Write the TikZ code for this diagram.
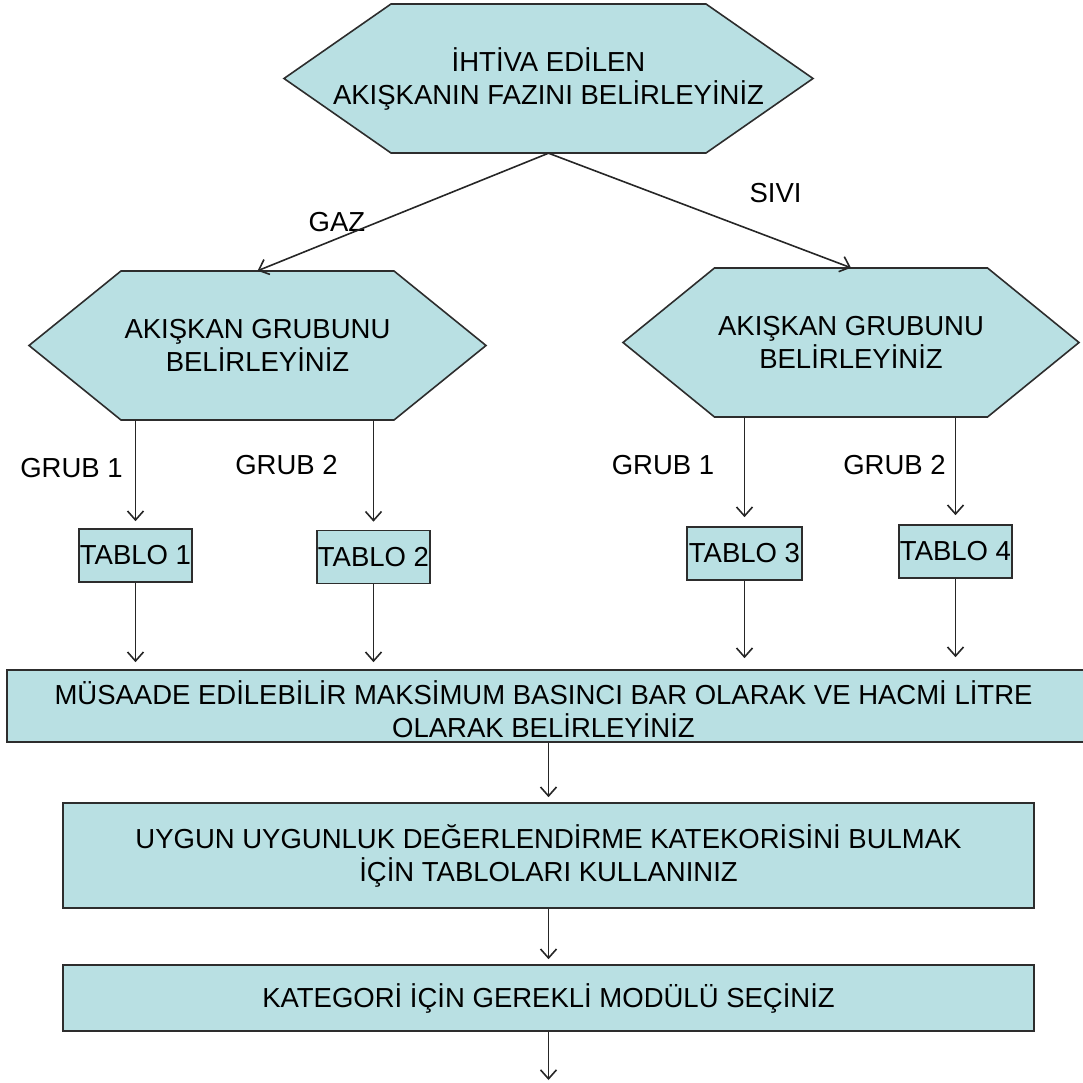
\documentclass[tikz,border=0pt]{standalone}
\usepackage{fontspec}
\setmainfont{Liberation Sans}
\usetikzlibrary{arrows.meta,backgrounds,calc}
\definecolor{boxfill}{RGB}{185,224,227}
\definecolor{edgecol}{RGB}{45,45,45}
% #1 node, #2 half top-edge width, #3 half full width, #4 half height
\newcommand{\hexshape}[4]{%
  \begin{scope}[on background layer]
    \path[shapebox] ($(#1.center)+(-#2,-#4)$) -- ($(#1.center)+(#2,-#4)$) -- ($(#1.center)+(#3,0)$)
      -- ($(#1.center)+(#2,#4)$) -- ($(#1.center)+(-#2,#4)$) -- ($(#1.center)+(-#3,0)$) -- cycle;
  \end{scope}}
\begin{document}
\begin{tikzpicture}[x=1pt,y=-1pt,
  txt/.style={font=\fontsize{27.5}{33}\selectfont, inner sep=0pt, align=center, text=black},
  shapebox/.style={draw=edgecol, line width=1.6pt, fill=boxfill},
  hexcore/.style={txt, minimum height=149pt},
  tablebox/.style={shapebox, txt, minimum width=113pt, minimum height=53pt},
  widebox/.style={shapebox, inner sep=0pt},
  conn/.style={draw=black!85, line width=1.6pt, -{Straight Barb[length=9pt,width=16pt,line width=1.6pt]}}
]
\useasboundingbox (0,0) rectangle (1082,1083);

% hexagons
\node[hexcore, minimum width=315pt] (h0) at (548.5,78.5) {İHTİVA EDİLEN\\AKIŞKANIN FAZINI BELİRLEYİNİZ};
\hexshape{h0}{157.5}{264.5}{74.5}
\node[hexcore, minimum width=273pt] (h1) at (257.5,345.5) {AKIŞKAN GRUBUNU\\BELİRLEYİNİZ};
\hexshape{h1}{136.5}{228.5}{74.5}
\node[hexcore, minimum width=273pt] (h2) at (851,342.5) {AKIŞKAN GRUBUNU\\BELİRLEYİNİZ};
\hexshape{h2}{136.5}{228}{74.5}

% table boxes
\node[tablebox] (t1) at (135.5,555.5) {TABLO 1};
\node[tablebox] (t2) at (373.5,557) {TABLO 2};
\node[tablebox, minimum width=115pt] (t3) at (744.5,553.5) {TABLO 3};
\node[tablebox] (t4) at (955.5,551.5) {TABLO 4};

% wide boxes
\node[widebox, minimum width=1093pt, minimum height=72pt] (m) at (553.5,706) {};
\node[txt] (mt) at (543.5,709) {MÜSAADE EDİLEBİLİR MAKSİMUM BASINCI BAR OLARAK VE HACMİ LİTRE\\OLARAK BELİRLEYİNİZ};
\node[widebox, txt, minimum width=971pt, minimum height=105pt] (u) at (548.5,855.5) {UYGUN UYGUNLUK DEĞERLENDİRME KATEKORİSİNİ BULMAK\\İÇİN TABLOLARI KULLANINIZ};
\node[widebox, txt, minimum width=971pt, minimum height=66pt] (k) at (548.5,998) {KATEGORİ İÇİN GEREKLİ MODÜLÜ SEÇİNİZ};
\coordinate (end) at (548.5,1080);

% labels
\node[txt] (gaz) at (337,222) {GAZ};
\node[txt] (sivi) at (775.5,193) {SIVI};
\node[txt] (g11) at (71.5,468) {GRUB 1};
\node[txt] (g12) at (286.5,465) {GRUB 2};
\node[txt] (g21) at (663,465) {GRUB 1};
\node[txt] (g22) at (894.5,465) {GRUB 2};

% connectors
\draw[conn] (h0.south) -- (h1.north);
\draw[conn] (h0.south) -- (h2.north);
\draw[conn, shorten >=7pt] (t1.north |- h1.south) -- (t1.north);
\draw[conn, shorten >=8pt] (t2.north |- h1.south) -- (t2.north);
\draw[conn, shorten >=9pt] (t3.north |- h2.south) -- (t3.north);
\draw[conn, shorten >=9pt] (t4.north |- h2.south) -- (t4.north);
\draw[conn, shorten >=7pt] (t1.south) -- (t1.south |- m.north);
\draw[conn, shorten >=7pt] (t2.south) -- (t2.south |- m.north);
\draw[conn, shorten >=11pt] (t3.south) -- (t3.south |- m.north);
\draw[conn, shorten >=12pt] (t4.south) -- (t4.south |- m.north);
\draw[conn, shorten >=5pt] (u.north |- m.south) -- (u.north);
\draw[conn, shorten >=5pt] (u.south) -- (k.north);
\draw[conn] (k.south) -- (end);
\end{tikzpicture}
\end{document}
